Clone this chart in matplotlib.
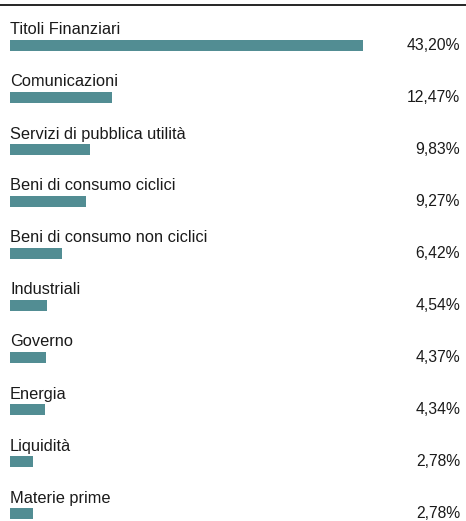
import matplotlib
matplotlib.use("Agg")
import matplotlib.pyplot as plt

categories = ["Titoli Finanziari", "Comunicazioni", "Servizi di pubblica utilità",
              "Beni di consumo ciclici", "Beni di consumo non ciclici", "Industriali",
              "Governo", "Energia", "Liquidità", "Materie prime"]
values = [43.20, 12.47, 9.83, 9.27, 6.42, 4.54, 4.37, 4.34, 2.78, 2.78]
value_labels = ["43,20%", "12,47%", "9,83%", "9,27%", "6,42%", "4,54%",
                "4,37%", "4,34%", "2,78%", "2,78%"]

plt.rcParams['font.family'] = ['Liberation Sans', 'DejaVu Sans']
W, H = 466, 521
fig = plt.figure(figsize=(W / 100, H / 100), dpi=100)
ax = fig.add_axes([0, 0, 1, 1])

px_per = 353 / 43.20
row = 52.0
top = 45.5
ax.set_xlim(-10 / px_per, (W - 10) / px_per)
ax.set_ylim((H - top) / row, -top / row)
ax.axis('off')

color = '#528d93'
ys = list(range(len(categories)))
ax.barh(ys, values, height=11 / row, color=color, left=0)

for i, (cat, lab) in enumerate(zip(categories, value_labels)):
    ax.text(0, i - 15.5 / row, cat, ha='left', va='center', fontsize=11.8, color='#1a1a1a')
    ax.text(460 / W, i, lab, transform=ax.get_yaxis_transform(), ha='right', va='center',
            fontsize=11.3, color='#1a1a1a')

ax.axhline((5 - top) / row, color='black', lw=1.2)

fig.savefig("out.png", dpi=100)
